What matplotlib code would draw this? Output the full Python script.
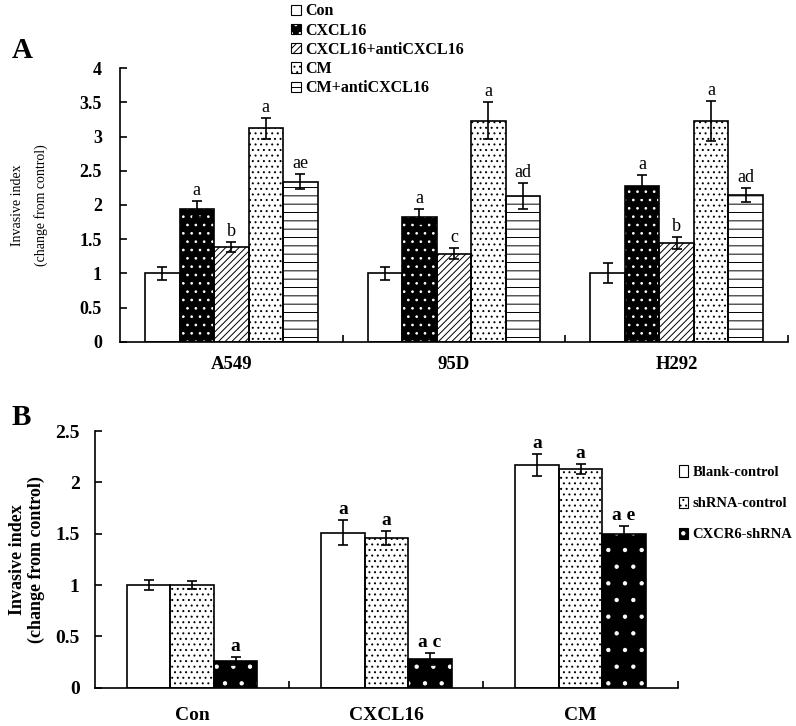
import matplotlib.pyplot as plt
import numpy as np
from matplotlib.patches import Patch
from matplotlib.legend_handler import HandlerTuple

plt.rcParams['font.family'] = ['Liberation Serif', 'DejaVu Serif']
plt.rcParams['hatch.linewidth'] = 0.7

# panel A data
cells = ['A549', '95D', 'H292']
treat_a = ['Con', 'CXCL16', 'CXCL16+antiCXCL16', 'CM', 'CM+antiCXCL16']
vals_a = [[1.00, 1.00, 1.01],
          [1.94, 1.83, 2.27],
          [1.39, 1.29, 1.44],
          [3.12, 3.23, 3.23],
          [2.34, 2.13, 2.15]]
errs_a = [[0.10, 0.10, 0.15],
          [0.12, 0.11, 0.17],
          [0.07, 0.08, 0.09],
          [0.15, 0.27, 0.29],
          [0.11, 0.19, 0.10]]
marks_a = [['', '', ''],
           ['a', 'a', 'a'],
           ['b', 'c', 'b'],
           ['a', 'a', 'a'],
           ['ae', 'ad', 'ad']]

# panel B data
groups_b = ['Con', 'CXCL16', 'CM']
treat_b = ['Blank-control', 'shRNA-control', 'CXCR6-shRNA']
vals_b = [[1.00, 1.51, 2.17],
          [1.00, 1.46, 2.13],
          [0.26, 0.28, 1.50]]
errs_b = [[0.05, 0.12, 0.11],
          [0.04, 0.07, 0.05],
          [0.04, 0.06, 0.07]]
marks_b = [['', 'a', 'a'],
           ['', 'a', 'a'],
           ['a', 'a c', 'a e']]

# style per series: (face, hatch, hatch colour)
style_a = [('white', None, 'black'),
           ('black', '..', 'white'),
           ('white', '/////', 'black'),
           ('white', '...', 'black'),
           ('white', '--', 'black')]
style_b = [('white', None, 'black'),
           ('white', '...', 'black'),
           ('black', '.', 'white')]


def draw_bars(ax, vals, errs, marks, styles, width, fs, weight, gap):
    n = len(vals)
    x = np.arange(len(vals[0]))
    for i in range(n):
        pos = x + (i - (n - 1) / 2) * width
        face, hatch, hc = styles[i]
        ax.bar(pos, vals[i], width, color=face, edgecolor=hc, hatch=hatch,
               linewidth=0, zorder=2)
        ax.bar(pos, vals[i], width, color='none', edgecolor='black',
               linewidth=1.2, zorder=3)
        ax.errorbar(pos, vals[i], yerr=errs[i], fmt='none', ecolor='black',
                    elinewidth=1.2, capsize=3.3, capthick=1.2, zorder=4)
        for p, v, e, m in zip(pos, vals[i], errs[i], marks[i]):
            if m:
                ax.text(p, v + e + gap, m, ha='center', va='bottom',
                        fontsize=fs, fontweight=weight)


def style_axes(ax, labels, ytop, ystep, tfs, xfs, ypad, xpad):
    ax.set_xlim(-0.5, len(labels) - 0.5)
    ax.set_ylim(0, ytop)
    ax.set_yticks(np.arange(0, ytop + 0.01, ystep))
    ax.set_yticklabels([f'{v:g}' for v in np.arange(0, ytop + 0.01, ystep)],
                       fontsize=tfs, fontweight='bold')
    ax.set_xticks(range(len(labels)))
    ax.set_xticklabels(labels, fontsize=xfs, fontweight='bold')
    ax.set_xticks(np.arange(0.5, len(labels), 1), minor=True)
    ax.tick_params(axis='x', which='major', length=0, pad=xpad)
    ax.tick_params(axis='x', which='minor', direction='in', length=5, width=1.2)
    ax.tick_params(axis='y', direction='in', length=5, width=1.2, pad=ypad)
    for s in ['top', 'right']:
        ax.spines[s].set_visible(False)
    for s in ['left', 'bottom']:
        ax.spines[s].set_linewidth(1.2)


def legend_handles(styles):
    hs = []
    for f, h, c in styles:
        fill = Patch(facecolor=f, edgecolor=c, hatch=h, linewidth=0)
        edge = Patch(facecolor='none', edgecolor='black', linewidth=0.8)
        hs.append((fill, edge))
    return hs


fig = plt.figure(figsize=(7.96, 7.26), dpi=100)

axA = fig.add_axes([0.1508, 0.529, 0.839, 0.3773])
draw_bars(axA, vals_a, errs_a, marks_a, style_a, 0.155, 13, 'normal', 0.03)
style_axes(axA, cells, 4, 0.5, 13, 13.5, 13, 10)
axA.set_ylabel('Invasive index\n(change from control)', fontsize=10,
               labelpad=23, linespacing=1.9)

fig.legend(legend_handles(style_a), treat_a, loc='upper left',
           bbox_to_anchor=(0.358, 1.004), frameon=False,
           prop={'size': 11.5, 'weight': 'bold'},
           handler_map={tuple: HandlerTuple(ndivide=1, pad=0)},
           handlelength=0.6, handleheight=0.6, handletextpad=0.3,
           labelspacing=0.2, borderaxespad=0)

axB = fig.add_axes([0.1193, 0.0528, 0.7321, 0.3535])
draw_bars(axB, vals_b, errs_b, marks_b, style_b, 0.224, 14, 'bold', 0.02)
style_axes(axB, groups_b, 2.5, 0.5, 14, 14, 11, 14)
axB.set_ylabel('Invasive index\n(change from control)', fontsize=13,
               fontweight='bold', labelpad=7)

fig.legend(legend_handles(style_b), treat_b, loc='upper left',
           bbox_to_anchor=(0.846, 0.367), frameon=False,
           prop={'size': 10.5, 'weight': 'bold'},
           handler_map={tuple: HandlerTuple(ndivide=1, pad=0)},
           handlelength=0.6, handleheight=0.8, handletextpad=0.3,
           labelspacing=1.2, borderaxespad=0)

fig.text(0.015, 0.92, 'A', fontsize=21, fontweight='bold')
fig.text(0.015, 0.415, 'B', fontsize=21, fontweight='bold')

fig.savefig('out.png', dpi=100)
